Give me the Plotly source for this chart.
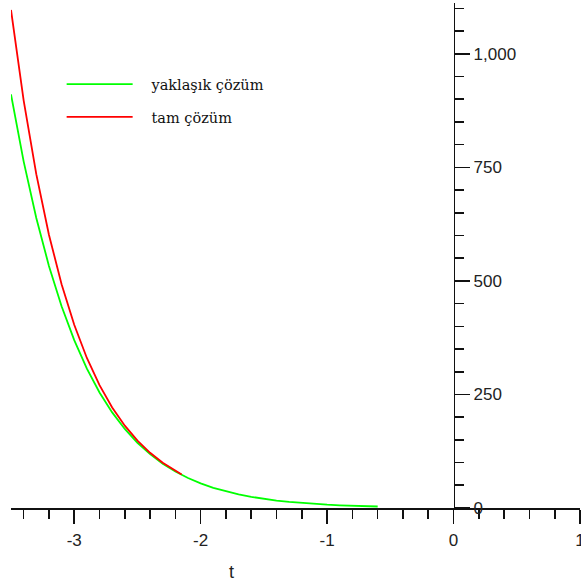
import plotly.graph_objects as go

# approximate solution (green)
t_approx = [-3.5, -3.4, -3.3, -3.2, -3.1, -3.0, -2.9, -2.8, -2.7, -2.6,
            -2.5, -2.4, -2.3, -2.2, -2.1, -2.0, -1.9, -1.8, -1.7, -1.6,
            -1.5, -1.4, -1.3, -1.2, -1.1, -1.0, -0.9, -0.8, -0.7, -0.6]
y_approx = [910.8, 763.3, 638.5, 533.1, 444.3, 369.6, 306.9, 254.4, 210.6, 174.1,
            143.7, 118.5, 97.5, 80.2, 66.0, 54.2, 44.4, 36.5, 29.9, 24.5,
            20.1, 16.4, 13.5, 11.0, 9.0, 7.4, 6.0, 5.0, 4.1, 3.3]

# exact solution (red)
t_exact = [-3.5, -3.4, -3.3, -3.2, -3.1, -3.0, -2.9, -2.8, -2.7, -2.6,
           -2.5, -2.4, -2.3, -2.2, -2.15]
y_exact = [1096.6, 897.8, 735.1, 601.8, 492.7, 403.4, 330.3, 270.4, 221.4, 181.3,
           148.4, 121.5, 99.5, 81.5, 73.7]

names = ["yaklaşık çözüm", "tam çözüm"]
x_ticks = [-3, -2, -1, 0, 1]
y_ticks = [0, 250, 500, 750, 1000]

pad = "\u00a0\u00a0\u00a0"

fig = go.Figure()
fig.add_trace(go.Scatter(x=t_approx, y=y_approx, mode="lines", name=pad + names[0],
                         legendgroup="a",
                         line=dict(color="rgb(0,255,0)", width=1.8)))
fig.add_trace(go.Scatter(x=t_exact, y=y_exact, mode="lines", name=pad + names[1],
                         legendgroup="b",
                         line=dict(color="rgb(255,0,0)", width=1.8)))

tickfont = dict(family="Liberation Sans, Arial, sans-serif", size=17, color="#222")

fig.update_layout(
    template="none",
    width=581, height=585,
    margin=dict(l=11, r=1, t=3, b=77, pad=0),
    paper_bgcolor="white", plot_bgcolor="white",
    showlegend=True,
    legend=dict(x=0.089, y=0.871, xanchor="left", yanchor="top",
                bgcolor="rgba(0,0,0,0)", borderwidth=0,
                itemwidth=66, tracegroupgap=11,
                font=dict(family="DejaVu Serif, serif", size=14.5, color="#111")),
    xaxis=dict(range=[-3.5, 1], tickvals=x_ticks, ticktext=[str(v) for v in x_ticks],
               showgrid=False, zeroline=False, showline=True, linecolor="#111",
               linewidth=1.6, ticks="outside", ticklen=14, tickwidth=1.6, tickcolor="#111",
               minor=dict(dtick=0.2, tick0=0, ticks="outside", ticklen=9, tickwidth=1.6,
                          tickcolor="#111", showgrid=False),
               ticklabeloverflow="allow", ticklabelstandoff=2,
               tickfont=tickfont, automargin=False, fixedrange=True),
    yaxis=dict(range=[0, 1112], tickvals=y_ticks, tickformat=",d",
               anchor="free", position=3.5 / 4.5, side="right",
               showgrid=False, zeroline=False, showline=True, linecolor="#111",
               linewidth=1.6, ticks="outside", ticklen=15, tickwidth=1.6, tickcolor="#111",
               minor=dict(dtick=50, tick0=0, ticks="outside", ticklen=9, tickwidth=1.6,
                          tickcolor="#111", showgrid=False),
               tickfont=tickfont, automargin=False, fixedrange=True),
    annotations=[dict(text="t", xref="paper", yref="paper", x=(231 - 11) / 569,
                      y=(508 - 572) / 505, xanchor="center", yanchor="middle",
                      showarrow=False,
                      font=dict(family="Liberation Sans, Arial, sans-serif", size=18,
                                color="#222"))],
)

fig.write_html("out.html", config={"displayModeBar": False, "staticPlot": True},
               post_script="document.body.style.margin='0';")
